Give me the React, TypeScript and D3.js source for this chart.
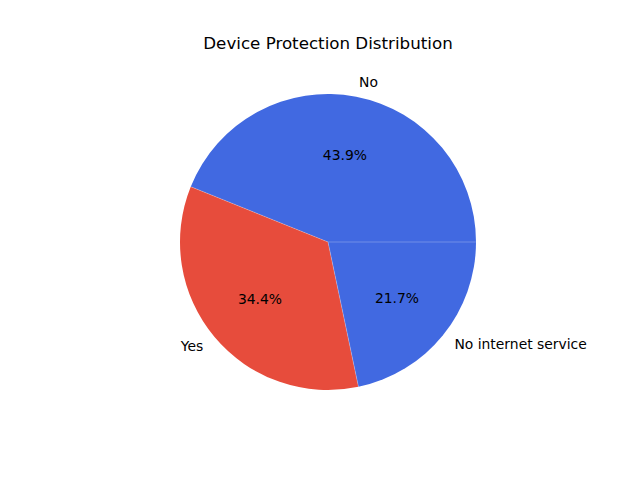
import * as d3 from "d3";
import { useEffect, useRef } from "react";

const categories = ["No", "Yes", "No internet service"];
const shares = [43.9, 34.4, 21.7];
const colors = ["#4169E1", "#E74C3C", "#4169E1"];

const App = () => {
  const ref = useRef<SVGSVGElement | null>(null);

  useEffect(() => {
    if (!ref.current) return;
    const svg = d3.select(ref.current);
    svg.selectAll("*").remove();

    const width = 640;
    const height = 480;
    const cx = 328;
    const cy = 242;
    const r = 148;

    svg.attr("width", width).attr("height", height);
    svg.append("rect").attr("width", width).attr("height", height).attr("fill", "#fff");

    svg
      .append("text")
      .attr("x", cx)
      .attr("y", 49)
      .attr("text-anchor", "middle")
      .style("font-family", "DejaVu Sans")
      .style("font-size", "16.7px")
      .text("Device Protection Distribution");

    const data = categories.map((c, i) => ({ c, v: shares[i], color: colors[i] }));

    // matplotlib: start at 3 o'clock, counterclockwise
    const pie = d3
      .pie<{ c: string; v: number; color: string }>()
      .value((d) => d.v)
      .sort(null)
      .startAngle(Math.PI / 2)
      .endAngle(Math.PI / 2 - 2 * Math.PI);

    const arcs = pie(data);
    const arc = d3.arc<d3.PieArcDatum<{ c: string; v: number; color: string }>>().innerRadius(0).outerRadius(r);

    const g = svg.append("g").attr("transform", `translate(${cx},${cy})`);

    g.selectAll("path")
      .data(arcs)
      .enter()
      .append("path")
      .attr("d", arc)
      .attr("fill", (d) => d.data.color);

    // faint seams between wedges (antialiasing in the original)
    g.selectAll("line.seam")
      .data(arcs)
      .enter()
      .append("line")
      .attr("class", "seam")
      .attr("x1", 0)
      .attr("y1", 0)
      .attr("x2", (d) => r * Math.sin(d.startAngle))
      .attr("y2", (d) => -r * Math.cos(d.startAngle))
      .attr("stroke", "#fff")
      .attr("stroke-width", 0.7)
      .attr("stroke-opacity", 0.35);

    const mid = (d: d3.PieArcDatum<any>) => (d.startAngle + d.endAngle) / 2;

    // category labels at 1.1 r
    g.selectAll("text.lbl")
      .data(arcs)
      .enter()
      .append("text")
      .attr("class", "lbl")
      .attr("x", (d) => 1.1 * r * Math.sin(mid(d)))
      .attr("y", (d) => -1.1 * r * Math.cos(mid(d)))
      .attr("dy", "0.35em")
      .attr("text-anchor", (d) => (Math.sin(mid(d)) > 0 ? "start" : "end"))
      .style("font-family", "DejaVu Sans")
      .style("font-size", "13.9px")
      .text((d) => d.data.c);

    // percentages at 0.6 r
    g.selectAll("text.pct")
      .data(arcs)
      .enter()
      .append("text")
      .attr("class", "pct")
      .attr("x", (d) => 0.6 * r * Math.sin(mid(d)))
      .attr("y", (d) => -0.6 * r * Math.cos(mid(d)))
      .attr("dy", "0.35em")
      .attr("text-anchor", "middle")
      .style("font-family", "DejaVu Sans")
      .style("font-size", "13.9px")
      .text((d) => `${d.data.v.toFixed(1)}%`);
  }, []);

  return <svg ref={ref} style={{ position: "absolute", left: 0, top: 0 }}></svg>;
};

export default App;
